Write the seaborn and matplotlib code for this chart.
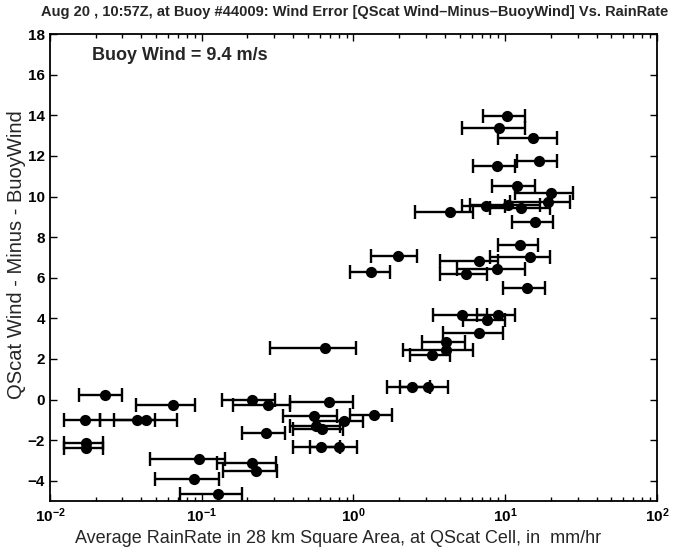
import numpy as np
import pandas as pd
import matplotlib
matplotlib.use("Agg")
import matplotlib.pyplot as plt
import seaborn as sns
from matplotlib.ticker import LogLocator, NullFormatter

# --- data: rain rate (mm/hr), bar ends, wind error (m/s) ---
rain = [0.0230, 0.0646, 0.0170, 0.0374, 0.0429, 0.0173, 0.0173,
        0.0959, 0.214, 0.228, 0.0889, 0.128,
        0.214, 0.273, 0.690, 0.549, 0.866, 0.566, 0.620, 0.265, 0.611, 0.803,
        0.649, 1.365, 2.43, 3.10, 3.29, 4.07, 4.07, 6.71, 5.19, 8.96, 7.58,
        13.9, 1.965, 1.304, 6.71, 8.82, 5.51, 12.5, 14.6,
        10.27, 9.09, 15.2, 8.82, 16.7, 11.95, 20.0, 19.1,
        4.33, 7.47, 10.42, 12.7, 15.7]
rain_lo = [0.0155, 0.0369, 0.0124, 0.0264, 0.0214, 0.0124, 0.0124,
           0.0456, 0.126, 0.138, 0.0492, 0.0719,
           0.136, 0.161, 0.382, 0.343, 0.575, 0.382, 0.399, 0.184, 0.399, 0.517,
           0.282, 0.948, 1.663, 2.025, 2.357, 2.12, 2.83, 3.89, 3.34, 6.5, 5.27,
           9.66, 1.304, 0.948, 3.72, 4.81, 3.72, 8.96, 7.93,
           7.13, 5.19, 8.96, 6.13, 11.95, 8.18, 11.6, 10.75,
           2.54, 5.19, 5.86, 7.93, 11.08]
rain_hi = [0.0298, 0.0903, 0.0214, 0.0492, 0.0687, 0.0223, 0.0223,
           0.142, 0.308, 0.313, 0.130, 0.184,
           0.304, 0.382, 0.992, 0.778, 1.155, 0.815, 0.853, 0.354, 0.815, 1.054,
           1.039, 1.794, 3.19, 4.19, 4.33, 6.13, 5.43, 9.66, 7.58, 11.6, 9.96,
           18.3, 2.62, 1.74, 9.0, 13.5, 7.58, 16.4, 19.7,
           13.5, 13.5, 21.9, 11.6, 21.9, 15.7, 28.0, 26.7,
           6.13, 10.0, 16.9, 19.7, 20.6]
wind_err = [0.2, -0.25, -1.0, -1.0, -1.0, -2.15, -2.4,
            -2.95, -3.15, -3.5, -3.9, -4.65,
            0.0, -0.25, -0.1, -0.8, -1.05, -1.28, -1.47, -1.67, -2.36, -2.36,
            2.55, -0.74, 0.64, 0.64, 2.2, 2.45, 2.85, 3.3, 4.18, 4.18, 3.93,
            5.5, 7.08, 6.3, 6.8, 6.44, 6.2, 7.62, 7.0,
            13.96, 13.37, 12.87, 11.5, 11.74, 10.5, 10.17, 9.73,
            9.24, 9.53, 9.6, 9.45, 8.75]

df = pd.DataFrame({"rain": rain, "lo": rain_lo, "hi": rain_hi, "err": wind_err})

sns.set_style("ticks")
plt.rcParams['font.family'] = ['Liberation Sans', 'DejaVu Sans']

fig = plt.figure(figsize=(6.85, 5.5), dpi=100)
ax = fig.add_axes([0.073, 0.089, 0.886, 0.849])

xerr = np.vstack([df["rain"] - df["lo"], df["hi"] - df["rain"]])
ax.errorbar(df["rain"], df["err"], xerr=xerr, fmt="none", ecolor="black",
            elinewidth=1.7, capsize=5, capthick=1.7, zorder=2)
sns.scatterplot(data=df, x="rain", y="err", ax=ax, color="black", s=65,
                edgecolor="black", linewidth=0, zorder=3, legend=False)

ax.set_xscale("log")
ax.set_xlim(1e-2, 1e2)
ax.set_ylim(-5, 18)
ax.set_yticks(range(-4, 19, 2))
ax.xaxis.set_minor_locator(LogLocator(base=10, subs=np.arange(2, 10)))
ax.xaxis.set_minor_formatter(NullFormatter())

ax.tick_params(direction="in", which="both", top=True, right=True,
               labelsize=11, width=1.0, colors="black")
ax.tick_params(which="major", length=5)
ax.tick_params(which="minor", length=3)
for lab in ax.get_xticklabels() + ax.get_yticklabels():
    lab.set_fontweight("bold")
for sp in ax.spines.values():
    sp.set_linewidth(1.3)
    sp.set_color("black")

ax.set_xlabel("Average RainRate in 28 km Square Area, at QScat Cell, in  mm/hr",
              fontsize=13)
ax.xaxis.set_label_coords(0.474, -0.062)
ax.set_ylabel("QScat Wind - Minus - BuoyWind", fontsize=14.5)
ax.yaxis.set_label_coords(-0.04, 0.527)
ax.text(0.07, 0.955, "Buoy Wind = 9.4 m/s", transform=ax.transAxes,
        fontsize=13, fontweight="bold", va="center")
fig.text(0.518, 0.978,
         "Aug 20 , 10:57Z, at Buoy #44009: Wind Error [QScat Wind\u2013Minus\u2013BuoyWind] Vs. RainRate",
         ha="center", va="center", fontsize=10.5, fontweight="bold")

fig.savefig("out.png", dpi=100)
